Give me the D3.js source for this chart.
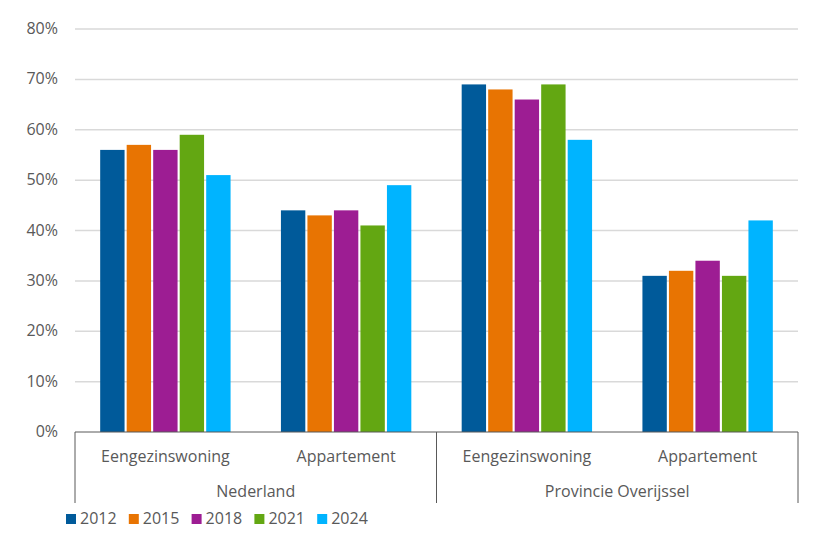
<!DOCTYPE html>
<html>
<head>
<meta charset="utf-8">
<script src="https://cdn.jsdelivr.net/npm/d3@7"></script>
<style>
  body { margin: 0; background: #fff; }
  text { font-family: "Open Sans", sans-serif; fill: #595959; }
</style>
</head>
<body>
<svg id="chart" width="814" height="540"></svg>
<script>
// data
var regions = ["Nederland", "Provincie Overijssel"];
var types = ["Eengezinswoning", "Appartement"];
var years = ["2012", "2015", "2018", "2021", "2024"];
var colors = ["#005a9a", "#e87402", "#9d1d93", "#63a712", "#00b4ff"];
// one row per region/type, one value per year (percent)
var nlEengezins = [56, 57, 56, 59, 51];
var nlAppartement = [44, 43, 44, 41, 49];
var ovEengezins = [69, 68, 66, 69, 58];
var ovAppartement = [31, 32, 34, 31, 42];
var yTicks = [0, 10, 20, 30, 40, 50, 60, 70, 80];

(function () {
    "use strict";
    var groups = [
            {region: regions[0], type: types[0], values: nlEengezins},
            {region: regions[0], type: types[1], values: nlAppartement},
            {region: regions[1], type: types[0], values: ovEengezins},
            {region: regions[1], type: types[1], values: ovAppartement}
        ],
        svg = d3.select("#chart"),
        mLeft = 75, mRight = 798, mTop = 29, mBottom = 432,
        fontSize = "16px";

    var x0 = d3.scaleBand()
        .domain(d3.range(groups.length))
        .range([mLeft, mRight])
        .paddingInner(0)
        .paddingOuter(0);

    var x1 = d3.scaleBand()
        .domain(years)
        .range([0, x0.bandwidth()])
        .paddingInner(0.08)
        .paddingOuter(0.95);

    var y = d3.scaleLinear().domain([0, 80]).range([mBottom, mTop]);

    // gridlines
    svg.append("g").selectAll("line")
        .data(yTicks.slice(1))
        .enter().append("line")
        .attr("x1", mLeft).attr("x2", mRight)
        .attr("y1", function (d) { return y(d); })
        .attr("y2", function (d) { return y(d); })
        .attr("stroke", "#d9d9d9")
        .attr("stroke-width", 1.5);

    // y labels
    svg.append("g").selectAll("text")
        .data(yTicks)
        .enter().append("text")
        .attr("x", 58)
        .attr("y", function (d) { return y(d) + 5; })
        .attr("text-anchor", "end")
        .style("font-size", fontSize)
        .text(function (d) { return d + "%"; });

    // bars
    var g = svg.append("g").selectAll("g")
        .data(groups)
        .enter().append("g")
        .attr("transform", function (d, i) { return "translate(" + x0(i) + ",0)"; });

    g.selectAll("rect")
        .data(function (d) { return d.values; })
        .enter().append("rect")
        .attr("x", function (d, i) { return x1(years[i]); })
        .attr("width", x1.bandwidth())
        .attr("y", function (d) { return y(d); })
        .attr("height", function (d) { return y(0) - y(d); })
        .attr("fill", function (d, i) { return colors[i]; });

    // baseline
    svg.append("line")
        .attr("x1", mLeft).attr("x2", mRight)
        .attr("y1", mBottom).attr("y2", mBottom)
        .attr("stroke", "#595959").attr("stroke-width", 1);

    // category labels
    g.append("text")
        .attr("x", x0.bandwidth() / 2)
        .attr("y", 462)
        .attr("text-anchor", "middle")
        .style("font-size", fontSize)
        .text(function (d) { return d.type; });

    // region separators and labels
    var regionX = d3.scalePoint().domain(d3.range(regions.length + 1)).range([mLeft, mRight]);
    svg.append("g").selectAll("line")
        .data(d3.range(regions.length + 1))
        .enter().append("line")
        .attr("x1", function (d) { return regionX(d); })
        .attr("x2", function (d) { return regionX(d); })
        .attr("y1", mBottom).attr("y2", 503)
        .attr("stroke", "#595959").attr("stroke-width", 1);

    svg.append("g").selectAll("text")
        .data(regions)
        .enter().append("text")
        .attr("x", function (d, i) { return (regionX(i) + regionX(i + 1)) / 2; })
        .attr("y", 497)
        .attr("text-anchor", "middle")
        .style("font-size", fontSize)
        .text(function (d) { return d; });

    // legend
    var legend = svg.append("g").selectAll("g")
        .data(years)
        .enter().append("g")
        .attr("transform", function (d, i) { return "translate(" + (66 + i * 62.8) + ",514)"; });

    legend.append("rect")
        .attr("width", 10).attr("height", 10)
        .attr("fill", function (d, i) { return colors[i]; });

    legend.append("text")
        .attr("x", 14).attr("y", 10)
        .style("font-size", fontSize)
        .text(function (d) { return d; });
}());
</script>
</body>
</html>
